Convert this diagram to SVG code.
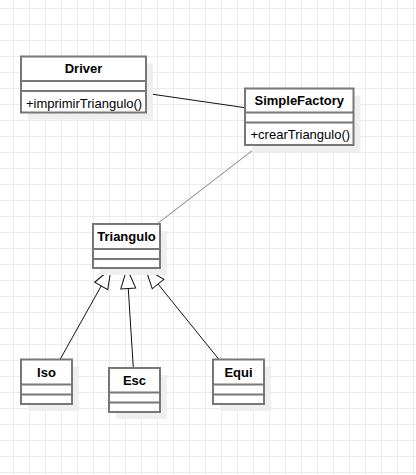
<svg xmlns="http://www.w3.org/2000/svg" width="416" height="475" viewBox="0 0 416 475">
<style>
  .box { fill: #ffffff; stroke: #777777; stroke-width: 2; }
  .shadow { fill: #efefef; stroke: none; }
  .sep { stroke: #777777; stroke-width: 2; }
  .title { font-family: "Liberation Sans", Arial, sans-serif; font-size: 13px; font-weight: bold; fill: #000; text-anchor: middle; }
  .member { font-family: "Liberation Sans", Arial, sans-serif; font-size: 13px; fill: #000; }
  .assoc { stroke: #111111; stroke-width: 1; fill: none; }
  .assoc-gray { stroke: #808080; stroke-width: 1; fill: none; }
  .gen { stroke: #111111; stroke-width: 1; fill: none; marker-end: url(#hollow); }
</style>
<defs>
  <pattern id="grid" patternUnits="userSpaceOnUse" x="13" y="8" width="16" height="16">
    <path d="M0.5 0 V16 M0 0.5 H16" stroke="#ebebeb" stroke-width="1" fill="none"/>
  </pattern>
  <marker id="hollow" markerUnits="userSpaceOnUse" viewBox="-21 -9 22 18" refX="0" refY="0" markerWidth="22" markerHeight="18" orient="auto">
    <path d="M0,0 L-20,-7.5 L-20,7.5 Z" fill="#ffffff" stroke="#111111" stroke-width="1"/>
  </marker>
</defs>
<rect x="0" y="0" width="416" height="475" fill="#ffffff"/>
<rect x="0" y="0" width="416" height="475" fill="url(#grid)"/>

<g id="connectors">
  <line class="assoc" x1="146" y1="93.3" x2="245" y2="107.7"/>
  <line class="assoc-gray" x1="259.5" y1="145" x2="157" y2="224"/>
  <line class="gen" x1="60" y1="359.5" x2="111" y2="268.5"/>
  <line class="gen" x1="133.3" y1="368" x2="127" y2="268.5"/>
  <line class="gen" x1="219" y1="359.5" x2="145.5" y2="268.5"/>
</g>

<g id="Driver">
  <rect class="shadow" x="28" y="63.5" width="125" height="56"/>
  <rect class="box" x="21" y="56.5" width="125" height="56"/>
  <line class="sep" x1="21" y1="81" x2="146" y2="81"/>
  <line class="sep" x1="21" y1="91" x2="146" y2="91"/>
  <text class="title" x="83.5" y="72.5">Driver</text>
  <text class="member" x="26" y="107.5">+imprimirTriangulo()</text>
</g>

<g id="SimpleFactory">
  <rect class="shadow" x="252" y="95.5" width="108.5" height="56.5"/>
  <rect class="box" x="245" y="88.5" width="108.5" height="56.5"/>
  <line class="sep" x1="245" y1="112.5" x2="353.5" y2="112.5"/>
  <line class="sep" x1="245" y1="122.5" x2="353.5" y2="122.5"/>
  <text class="title" x="299.3" y="105">SimpleFactory</text>
  <text class="member" x="250.5" y="139">+crearTriangulo()</text>
</g>

<g id="Triangulo">
  <rect class="shadow" x="100" y="231" width="67" height="44"/>
  <rect class="box" x="93" y="224" width="67" height="44"/>
  <line class="sep" x1="93" y1="249" x2="160" y2="249"/>
  <line class="sep" x1="93" y1="259" x2="160" y2="259"/>
  <text class="title" x="126.5" y="241">Triangulo</text>
</g>

<g id="Iso">
  <rect class="shadow" x="28" y="366.5" width="51" height="44.5"/>
  <rect class="box" x="21" y="359.5" width="51" height="44.5"/>
  <line class="sep" x1="21" y1="384.5" x2="72" y2="384.5"/>
  <line class="sep" x1="21" y1="394.5" x2="72" y2="394.5"/>
  <text class="title" x="46.5" y="376.7">Iso</text>
</g>

<g id="Esc">
  <rect class="shadow" x="116" y="375" width="51" height="44"/>
  <rect class="box" x="109" y="368" width="51" height="44"/>
  <line class="sep" x1="109" y1="392.5" x2="160" y2="392.5"/>
  <line class="sep" x1="109" y1="402.5" x2="160" y2="402.5"/>
  <text class="title" x="134.5" y="385">Esc</text>
</g>

<g id="Equi">
  <rect class="shadow" x="220" y="366.5" width="51" height="44.5"/>
  <rect class="box" x="213" y="359.5" width="51" height="44.5"/>
  <line class="sep" x1="213" y1="384.5" x2="264" y2="384.5"/>
  <line class="sep" x1="213" y1="394.5" x2="264" y2="394.5"/>
  <text class="title" x="238.5" y="376.7">Equi</text>
</g>
</svg>
